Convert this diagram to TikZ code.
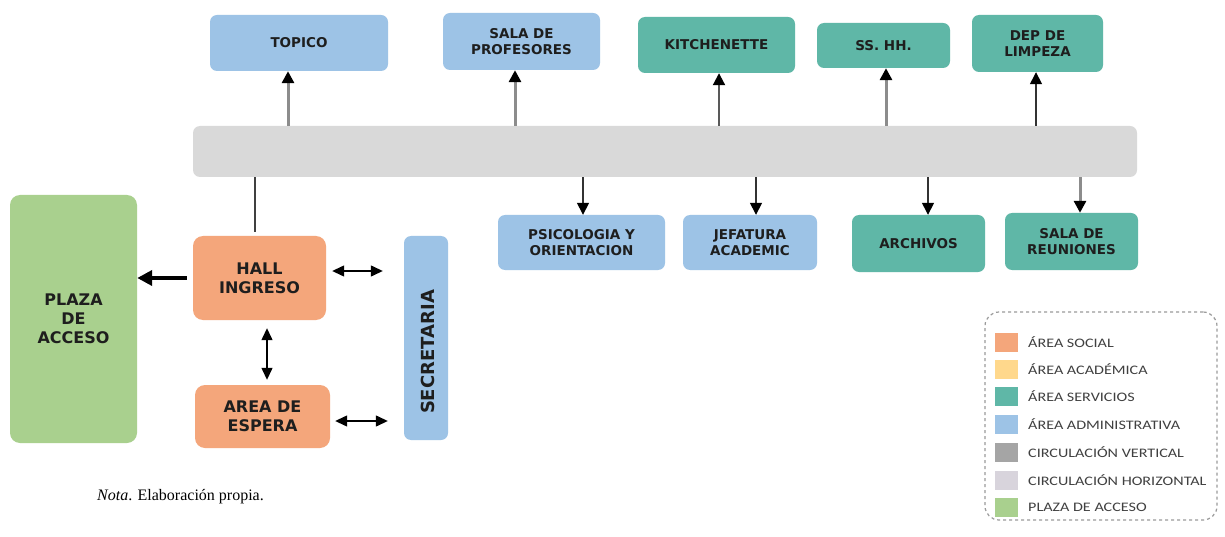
\documentclass[tikz,border=0pt]{standalone}
\usepackage{fontspec}
\setmainfont{Liberation Serif}
\newfontfamily\boxfont{DejaVu Sans}
\newfontfamily\legfont{Carlito}[FakeStretch=1.24]
\usetikzlibrary{arrows.meta,calc}
\definecolor{cblue}{HTML}{9DC3E6}
\definecolor{cteal}{HTML}{5FB7A7}
\definecolor{corange}{HTML}{F4A67B}
\definecolor{cgreen}{HTML}{A9D08E}
\definecolor{cbar}{HTML}{D9D9D9}
\definecolor{cyellow}{HTML}{FFD88C}
\definecolor{cdgray}{HTML}{A5A5A5}
\definecolor{clgray}{HTML}{D8D4DC}
\definecolor{ctext}{HTML}{1E1E1E}
\definecolor{cshaft}{HTML}{8C8C8C}
\definecolor{cdash}{HTML}{9A9A9A}
\begin{document}
\begin{tikzpicture}[x=1pt,y=-1pt,
  box/.style={rounded corners=7pt, inner sep=0pt, align=center, text=ctext,
    font=\boxfont\bfseries\fontsize{13.5}{15.5}\selectfont},
  bigbox/.style={box, rounded corners=10pt, font=\boxfont\bfseries\fontsize{16}{19}\selectfont},
  sz/.style 2 args={minimum width=#1pt, minimum height=#2pt},
  upg/.style={draw=cshaft, line width=3pt, -{Triangle[width=12pt,length=12pt,color=black]}},
  upd/.style={draw=black!80, line width=1.5pt, -{Triangle[width=12pt,length=12pt,color=black]}},
  dng/.style={upg},
  dnd/.style={upd},
  dbl/.style={draw=black, line width=1.3pt, {Triangle[width=11pt,length=12pt]}-{Triangle[width=11pt,length=12pt]}},
  swatch/.style={inner sep=0pt, minimum width=23pt, minimum height=19pt},
  legtext/.style={anchor=west, inner sep=0pt, text=black!75, font=\legfont\fontsize{13}{15}\selectfont}
]
\useasboundingbox[fill=white] (0,0) rectangle (1225,537);

% horizontal circulation bar
\node[box, fill=cbar, sz={944}{51}] (bar) at (665,151.5) {};

% top row
\node[box, fill=cblue, sz={178}{56}] (topico) at (299,43) {TOPICO};
\node[box, fill=cblue, sz={157}{57}] (salaprof) at (521.5,41.5) {SALA DE\\PROFESORES};
\node[box, fill=cteal, sz={157}{56}] (kitchen) at (716.5,45) {KITCHENETTE};
\node[box, fill=cteal, sz={133}{45}] (sshh) at (883.5,45.5) {SS. HH.};
\node[box, fill=cteal, sz={131}{57}] (dep) at (1037.5,43.5) {DEP DE\\LIMPEZA};

% bottom row
\node[box, fill=cblue, sz={167}{55}] (psico) at (581.5,242.5) {PSICOLOGIA Y\\ORIENTACION};
\node[box, fill=cblue, sz={134}{55}] (jefa) at (750,242.5) {JEFATURA\\ACADEMIC};
\node[box, fill=cteal, sz={133}{57}] (arch) at (918.5,243.5) {ARCHIVOS};
\node[box, fill=cteal, sz={133}{57}] (salareu) at (1071.5,241.5) {SALA DE\\REUNIONES};

% left group
\node[bigbox, fill=cgreen, sz={127}{248}] (plaza) at (73.5,319) {PLAZA\\DE\\ACCESO};
\node[bigbox, fill=corange, sz={133}{84}] (hall) at (259.5,278) {HALL\\INGRESO};
\node[bigbox, fill=corange, sz={135}{63}] (espera) at (262.5,416.5) {AREA DE\\ESPERA};
\node[bigbox, fill=cblue, rounded corners=7pt, rotate=90, sz={204}{44}] (secre) at (426,338) {};
\node[inner sep=0pt, rotate=90, text=ctext, font=\boxfont\bfseries\fontsize{18}{20}\selectfont] (secretxt) at (428,352) {SECRETARIA};

% arrows up
\draw[upg] ([xshift=-11pt]topico.south |- bar.north) -- ([xshift=-11pt]topico.south);
\draw[upg] ([xshift=-6.5pt]salaprof.south |- bar.north) -- ([xshift=-6.5pt]salaprof.south);
\draw[upd, draw=black!65, line width=2pt] ([xshift=2.5pt]kitchen.south |- bar.north) -- ([xshift=2.5pt]kitchen.south);
\draw[upg] ([xshift=2.5pt]sshh.south |- bar.north) -- ([xshift=2.5pt]sshh.south);
\draw[upd] ([xshift=-1.5pt]dep.south |- bar.north) -- ([xshift=-1.5pt]dep.south);

% arrows down
\draw[dnd] ([xshift=1.5pt]psico.north |- bar.south) -- ([xshift=1.5pt]psico.north);
\draw[dnd] ([xshift=6pt]jefa.north |- bar.south) -- ([xshift=6pt]jefa.north);
\draw[dnd] ([xshift=9.5pt]arch.north |- bar.south) -- ([xshift=9.5pt]arch.north);
\draw[dng] ([xshift=8.5pt]salareu.north |- bar.south) -- ([xshift=8.5pt]salareu.north);

% bar to hall
\draw[draw=black!75, line width=1.5pt, shorten >=4pt] ([xshift=-4.5pt]hall.north |- bar.south) -- ([xshift=-4.5pt]hall.north);

% left connectors
\draw[line width=4pt, -{Triangle[width=15pt,length=15pt]}, shorten <=6pt] (hall.west) -- (hall.west -| plaza.east);
\draw[dbl, shorten <=6pt, shorten >=21pt] ([yshift=7pt]hall.east) -- ([yshift=7pt]hall.east -| secre.north);
\draw[dbl, shorten <=5pt, shorten >=16pt] ([yshift=-4.5pt]espera.east) -- ([yshift=-4.5pt]espera.east -| secre.north);
\draw[dbl, shorten <=8pt, shorten >=5pt] ([xshift=7.5pt]hall.south) -- ([xshift=7.5pt]hall.south |- espera.north);

% legend
\node[draw=cdash, dashed, line width=1.2pt, rounded corners=14pt, inner sep=0pt, sz={232}{208}] (legend) at (1101,416) {};
\node[swatch, fill=corange] (s1) at (1006.5,342) {};
\node[swatch, fill=cyellow] (s2) at (1006.5,369) {};
\node[swatch, fill=cteal] (s3) at (1006.5,396.5) {};
\node[swatch, fill=cblue] (s4) at (1006.5,424.5) {};
\node[swatch, fill=cdgray] (s5) at (1006.5,452) {};
\node[swatch, fill=clgray] (s6) at (1006.5,480) {};
\node[swatch, fill=cgreen] (s7) at (1006.5,507) {};
\node[legtext] (t1) at (1028,342) {ÁREA SOCIAL};
\node[legtext] (t2) at (1028,369) {ÁREA ACADÉMICA};
\node[legtext] (t3) at (1028,396.5) {ÁREA SERVICIOS};
\node[legtext] (t4) at (1028,424.5) {ÁREA ADMINISTRATIVA};
\node[legtext] (t5) at (1028,452) {CIRCULACIÓN VERTICAL};
\node[legtext] (t6) at (1028,480) {CIRCULACIÓN HORIZONTAL};
\node[legtext] (t7) at (1028,507) {PLAZA DE ACCESO};

% note
\node[anchor=base west, inner sep=0pt, font=\fontsize{16}{19}\selectfont] (nota) at (97,500) {\textit{Nota}. Elaboración propia.};
\end{tikzpicture}
\end{document}
